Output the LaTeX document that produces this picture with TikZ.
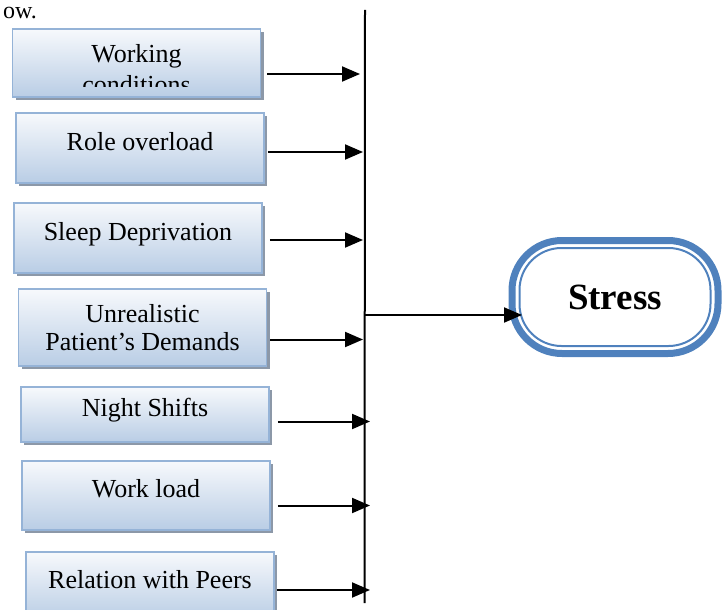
\documentclass[tikz,border=0pt]{standalone}
\usepackage{fontspec}
\setmainfont{Liberation Serif}
\usetikzlibrary{arrows.meta,shadows}

\definecolor{boxline}{HTML}{95B3D7}
\definecolor{boxtop}{HTML}{F7F9FC}
\definecolor{boxbot}{HTML}{B9CDE5}
\definecolor{boxshade}{HTML}{8C98A8}
\definecolor{stressblue}{HTML}{4F81BD}

\tikzset{
  factor/.style={rectangle, draw=boxline, line width=1.5pt, top color=boxtop, bottom color=boxbot,
    minimum width=248pt, inner sep=0pt, align=center, font=\fontsize{26}{28.5}\selectfont,
    drop shadow={shadow xshift=3pt, shadow yshift=-3pt, fill=boxshade, opacity=1}},
  oneline/.style={text height=18pt, text depth=14pt},
  arr/.style={->, line width=2pt}
}

\begin{document}
\begin{tikzpicture}[x=1pt, y=1pt, >={Triangle[length=18pt,width=15pt]}]

        % --- Area della figura ---
        \useasboundingbox (0,0) rectangle (723,-610);

        % --- Resto del testo della pagina ---
        \node[anchor=base west, inner sep=0pt, font=\fontsize{24}{26}\selectfont] (prev) at (3,-19) {ow.};

        % --- Barra verticale ---
        \coordinate (bartop) at (365,-10);
        \coordinate (barbot) at (364.5,-603);
        \draw[line width=2pt] (bartop) -- (barbot);

        % --- Fattori (lato sinistro) ---
        \node[factor, minimum height=68pt] (wc) at (136.5,-63) {};
        \begin{scope}
          \clip ([shift={(1,-1)}]wc.north west) rectangle ([shift={(-1,-24)}]wc.east);
          \node[inner sep=0pt, align=center, font=\fontsize{26}{31}\selectfont] (wctext) at (136.5,-69) {Working\\conditions};
        \end{scope}

        \node[factor, oneline, minimum height=70pt] (ro) at (140,-148) {Role overload};
        \node[factor, oneline, minimum height=70pt] (sd) at (138,-238) {Sleep Deprivation};
        \node[factor, minimum height=77pt] (upd) at (142.5,-327.5) {Unrealistic\\Patient’s Demands};
        \node[factor, oneline, minimum height=55pt] (ns) at (145,-414.5) {Night Shifts};
        \node[factor, oneline, minimum height=69pt] (wl) at (146,-495.5) {Work load};
        \node[factor, oneline, minimum height=68pt] (rp) at (150,-586) {Relation with Peers};

        % --- Frecce verso la barra ---
        \draw[arr] ([shift={(6,-11)}]wc.east) -- ([shift={(-5,-11)}]wc.east -| bartop);
        \draw[arr] ([shift={(3,-4)}]ro.east) -- ([shift={(-2,-4)}]ro.east -| bartop);
        \draw[arr] ([shift={(7,-2)}]sd.east) -- ([shift={(-2,-2)}]sd.east -| bartop);
        \draw[arr] ([shift={(3,-12)}]upd.east) -- ([shift={(-2,-12)}]upd.east -| bartop);
        \draw[arr] ([shift={(8,-7)}]ns.east) -- ([shift={(5,-7)}]ns.east -| bartop);
        \draw[arr] ([shift={(7,-10)}]wl.east) -- ([shift={(5,-10)}]wl.east -| bartop);
        \draw[arr] ([shift={(2,-4)}]rp.east) -- ([shift={(5,-4)}]rp.east -| bartop);

        % --- Stress ---
        \node[draw=stressblue, line width=7pt, outer sep=0pt, rounded corners=50pt,
              minimum width=206pt, minimum height=113pt, font=\fontsize{37}{40}\selectfont\bfseries] (stress) at (615,-297) {Stress};
        \draw[stressblue, line width=2pt, rounded corners=42pt]
              ([shift={(7.5,-7.5)}]stress.north west) rectangle ([shift={(-7.5,7.5)}]stress.south east);

        \draw[arr] ([yshift=-18]stress.west -| bartop) -- ([shift={(10,-18)}]stress.west);

    \end{tikzpicture}
\end{document}
